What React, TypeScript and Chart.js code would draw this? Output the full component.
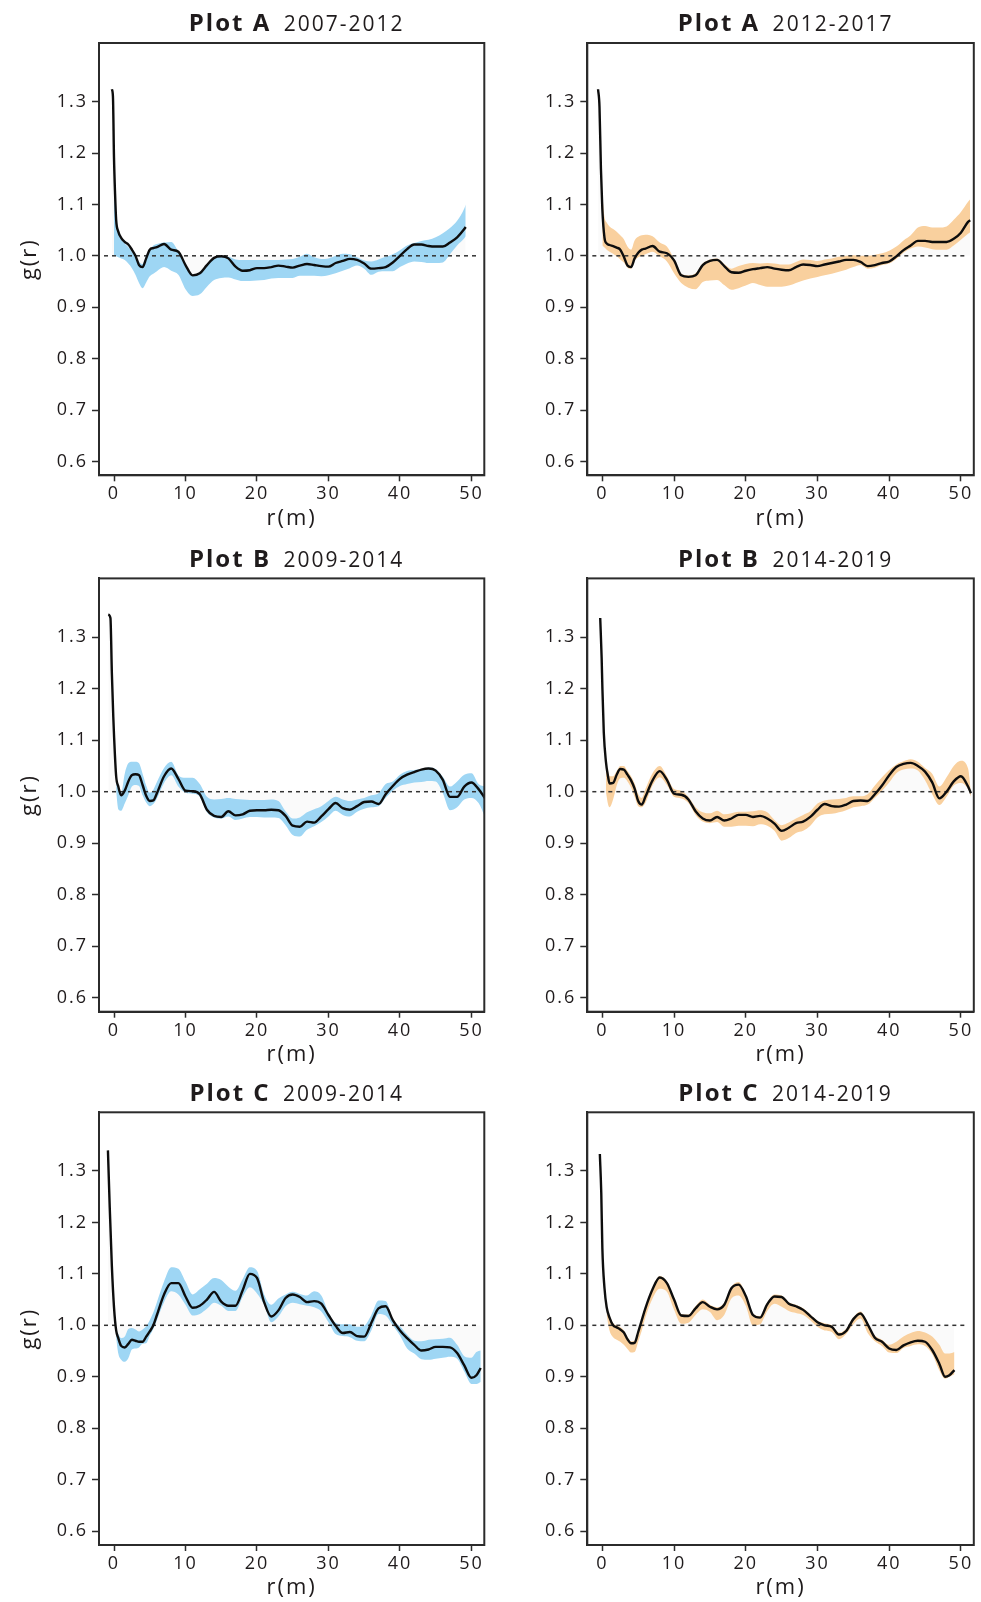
import React, { useEffect, useRef } from "react";
import { Chart, registerables } from "chart.js";

Chart.register(...registerables);

// ---------- axes ----------
const X_TICKS = [0, 10, 20, 30, 40, 50];
const X_TICK_LABELS = ["0", "10", "20", "30", "40", "50"];
const Y_TICKS = [0.6, 0.7, 0.8, 0.9, 1.0, 1.1, 1.2, 1.3];
const Y_TICK_LABELS = ["0.6", "0.7", "0.8", "0.9", "1.0", "1.1", "1.2", "1.3"];
const X_MIN = -2.1;
const X_MAX = 51.8;
const Y_MIN = 0.573;
const Y_MAX = 1.414;
const REF_R = [-1.4, 51];
const REF_G = [1, 1];

// ---------- Plot A 2007-2012 ----------
const A1_R = [-0.3, -0.15, 0, 0.15, 0.3, 0.6, 1, 1.5, 2, 2.5, 3, 3.5, 4, 4.5, 5, 5.5, 6,
  7, 8, 9, 10, 11, 12, 13, 14, 15, 16, 17, 18, 19, 20, 21, 22, 23, 24, 25, 26, 27, 28, 29, 30,
  31, 32, 33, 34, 35, 36, 37, 38, 39, 40, 41, 42, 43, 44, 45, 46, 47, 48, 49, 49.2];
const A1_G = [1.324, 1.31, 1.19, 1.12, 1.07, 1.047, 1.035, 1.027, 1.022, 1.012, 1.0, 0.982, 0.978, 0.995, 1.012, 1.015, 1.017,
  1.023, 1.012, 1.008, 0.982, 0.962, 0.966, 0.982, 0.996, 0.999, 0.995, 0.979, 0.971, 0.972, 0.976, 0.976, 0.978, 0.981, 0.979, 0.977, 0.981, 0.984, 0.982, 0.98, 0.979,
  0.986, 0.99, 0.994, 0.992, 0.985, 0.975, 0.976, 0.978, 0.987, 1.0, 1.013, 1.022, 1.022, 1.019, 1.018, 1.018, 1.026, 1.036, 1.052, 1.056];
const A1_LO = [null, null, 1.0, 1.0, 0.999, 0.997, 0.995, 0.992, 0.985, 0.976, 0.963, 0.947, 0.937, 0.948, 0.96, 0.965, 0.97,
  0.978, 0.971, 0.963, 0.935, 0.922, 0.925, 0.94, 0.953, 0.957, 0.958, 0.954, 0.951, 0.951, 0.952, 0.953, 0.956, 0.957, 0.957, 0.957, 0.961, 0.961, 0.961, 0.96, 0.962,
  0.966, 0.971, 0.976, 0.981, 0.975, 0.963, 0.969, 0.97, 0.97, 0.978, 0.985, 0.989, 0.988, 0.986, 0.986, 0.987, 1.003, 1.02, 1.034, 1.038];
const A1_HI = [null, null, 1.15, 1.1, 1.068, 1.045, 1.032, 1.024, 1.017, 1.008, 0.997, 0.988, 0.984, 1.0, 1.012, 1.02, 1.023,
  1.026, 1.027, 1.008, 0.982, 0.962, 0.966, 0.982, 0.996, 0.999, 0.998, 0.993, 0.992, 0.992, 0.992, 0.992, 0.992, 0.992, 0.993, 0.994, 0.998, 1.004, 0.997, 0.994, 0.995,
  1.0, 1.004, 1.003, 0.997, 0.991, 0.989, 0.993, 0.998, 1.003, 1.011, 1.02, 1.025, 1.029, 1.031, 1.036, 1.044, 1.054, 1.068, 1.092, 1.1];

// ---------- Plot A 2012-2017 ----------
const A2_R = [-0.6, -0.4, -0.2, 0, 0.3, 0.6, 1, 1.5, 2, 2.5, 3, 3.5, 4, 4.5, 5, 5.5, 6,
  7, 8, 9, 10, 11, 12, 13, 14, 15, 16, 17, 18, 19, 20, 21, 22, 23, 24, 25, 26, 27, 28, 29, 30,
  31, 32, 33, 34, 35, 36, 37, 38, 39, 40, 41, 42, 43, 44, 45, 46, 47, 48, 49, 50, 51, 51.3];
const A2_G = [1.324, 1.29, 1.17, 1.09, 1.035, 1.024, 1.021, 1.019, 1.016, 1.012, 0.998, 0.981, 0.978, 0.995, 1.006, 1.012, 1.014,
  1.019, 1.008, 1.005, 0.991, 0.962, 0.959, 0.962, 0.982, 0.99, 0.992, 0.98, 0.968, 0.967, 0.971, 0.974, 0.976, 0.978, 0.975, 0.973, 0.972, 0.978, 0.983, 0.982, 0.98,
  0.983, 0.986, 0.989, 0.992, 0.992, 0.988, 0.98, 0.982, 0.986, 0.989, 0.999, 1.011, 1.02, 1.029, 1.029, 1.027, 1.027, 1.027, 1.033, 1.045, 1.066, 1.069];
const A2_LO = [null, null, null, 1.02, 1.016, 1.012, 1.008, 1.004, 0.999, 0.993, 0.987, 0.977, 0.975, 0.99, 0.997, 1.0, 1.003,
  1.008, 0.999, 0.989, 0.966, 0.947, 0.938, 0.935, 0.949, 0.952, 0.953, 0.943, 0.934, 0.937, 0.942, 0.947, 0.943, 0.94, 0.94, 0.94, 0.942, 0.947, 0.952, 0.956, 0.959,
  0.962, 0.965, 0.969, 0.973, 0.978, 0.982, 0.975, 0.977, 0.982, 0.985, 0.994, 1.006, 1.014, 1.018, 1.016, 1.013, 1.012, 1.012, 1.02, 1.031, 1.043, 1.046];
const A2_HI = [null, null, null, 1.12, 1.075, 1.065, 1.057, 1.052, 1.047, 1.04, 1.032, 1.018, 1.012, 1.03, 1.037, 1.04, 1.041,
  1.038, 1.026, 1.018, 0.994, 0.965, 0.962, 0.966, 0.985, 0.993, 0.995, 0.984, 0.975, 0.98, 0.984, 0.986, 0.985, 0.986, 0.985, 0.983, 0.983, 0.988, 0.993, 0.992, 0.99,
  0.993, 0.995, 0.998, 1.0, 1.001, 1.0, 1.0, 1.002, 1.005, 1.01, 1.018, 1.03, 1.04, 1.055, 1.058, 1.055, 1.055, 1.057, 1.07, 1.085, 1.105, 1.11];

// ---------- Plot B 2009-2014 ----------
const B1_R = [-0.8, -0.5, -0.3, -0.1, 0, 0.3, 0.6, 1, 1.5, 2, 2.5, 3, 3.5, 4, 4.5, 5, 5.5, 6,
  7, 8, 9, 10, 11, 12, 13, 14, 15, 16, 17, 18, 19, 20, 21, 22, 23, 24, 25, 26, 27, 28, 29, 30,
  31, 32, 33, 34, 35, 36, 37, 38, 39, 40, 41, 42, 43, 44, 45, 46, 47, 48, 49, 50, 51, 51.9];
const B1_G = [1.344, 1.337, 1.23, 1.145, 1.11, 1.03, 1.01, 0.993, 1.002, 1.02, 1.032, 1.034, 1.032, 1.013, 0.992, 0.982, 0.983, 0.997,
  1.03, 1.045, 1.025, 1.002, 1.001, 0.995, 0.965, 0.953, 0.951, 0.962, 0.954, 0.956, 0.963, 0.964, 0.964, 0.965, 0.964, 0.953, 0.934, 0.932, 0.942, 0.94, 0.952, 0.966,
  0.978, 0.968, 0.965, 0.972, 0.98, 0.981, 0.976, 0.995, 1.011, 1.025, 1.033, 1.038, 1.043, 1.045, 1.041, 1.023, 0.99, 0.99, 1.01, 1.018, 1.005, 0.987];
const B1_LO = [null, null, null, null, null, 1.0, 0.966, 0.963, 0.977, 0.993, 1.01, 1.013, 1.011, 0.993, 0.979, 0.972, 0.976, 0.987,
  1.017, 1.032, 1.01, 0.998, 0.996, 0.99, 0.96, 0.95, 0.948, 0.952, 0.945, 0.948, 0.951, 0.951, 0.95, 0.95, 0.949, 0.935, 0.916, 0.913, 0.926, 0.933, 0.941, 0.952,
  0.963, 0.955, 0.952, 0.961, 0.967, 0.97, 0.972, 0.988, 1.002, 1.011, 1.015, 1.018, 1.019, 1.021, 1.02, 0.997, 0.964, 0.97, 0.985, 0.988, 0.978, 0.951];
const B1_HI = [null, null, null, null, null, 1.03, 1.015, 0.998, 1.035, 1.055, 1.058, 1.058, 1.055, 1.035, 1.012, 0.998, 1.004, 1.019,
  1.046, 1.058, 1.032, 1.027, 1.027, 1.015, 0.99, 0.985, 0.986, 0.988, 0.986, 0.985, 0.984, 0.984, 0.984, 0.985, 0.982, 0.962, 0.948, 0.95, 0.96, 0.966, 0.972, 0.982,
  0.99, 0.985, 0.982, 0.985, 0.988, 0.993, 0.997, 1.015, 1.02, 1.033, 1.04, 1.042, 1.044, 1.047, 1.044, 1.029, 1.01, 1.02, 1.033, 1.036, 1.015, 1.01];

// ---------- Plot B 2014-2019 ----------
const B2_R = [-0.3, -0.1, 0, 0.2, 0.5, 0.8, 1, 1.5, 2, 2.5, 3, 3.5, 4, 4.5, 5, 5.5, 6,
  7, 8, 9, 10, 11, 12, 13, 14, 15, 16, 17, 18, 19, 20, 21, 22, 23, 24, 25, 26, 27, 28, 29, 30,
  31, 32, 33, 34, 35, 36, 37, 38, 39, 40, 41, 42, 43, 44, 45, 46, 47, 48, 49, 50, 51, 51.4];
const B2_G = [1.337, 1.26, 1.204, 1.115, 1.058, 1.029, 1.016, 1.017, 1.033, 1.044, 1.043, 1.033, 1.022, 1.006, 0.982, 0.975, 0.99,
  1.022, 1.04, 1.023, 0.996, 0.994, 0.985, 0.962, 0.948, 0.944, 0.951, 0.944, 0.948, 0.955, 0.955, 0.951, 0.953, 0.948, 0.938, 0.924, 0.93, 0.939, 0.942, 0.951, 0.965,
  0.976, 0.972, 0.971, 0.975, 0.982, 0.983, 0.982, 0.995, 1.012, 1.032, 1.048, 1.054, 1.056, 1.05, 1.039, 1.018, 0.987, 1.0, 1.02, 1.03, 1.01, 0.997];
const B2_LO = [null, null, null, null, 1.0, 0.975, 0.97, 0.985, 1.012, 1.026, 1.027, 1.02, 1.008, 0.99, 0.972, 0.97, 0.978,
  1.012, 1.028, 1.013, 0.99, 0.987, 0.978, 0.955, 0.942, 0.939, 0.941, 0.932, 0.932, 0.934, 0.934, 0.933, 0.937, 0.934, 0.924, 0.905, 0.91, 0.92, 0.924, 0.934, 0.95,
  0.956, 0.957, 0.96, 0.964, 0.97, 0.972, 0.975, 0.988, 1.002, 1.018, 1.036, 1.043, 1.045, 1.041, 1.022, 0.995, 0.974, 0.99, 1.012, 1.017, 1.005, 0.99];
const B2_HI = [null, null, null, null, 1.055, 1.04, 1.03, 1.03, 1.04, 1.05, 1.05, 1.04, 1.03, 1.016, 0.995, 0.988, 1.005,
  1.036, 1.05, 1.03, 1.005, 1.002, 0.99, 0.97, 0.96, 0.958, 0.963, 0.956, 0.958, 0.961, 0.961, 0.962, 0.964, 0.96, 0.945, 0.935, 0.94, 0.948, 0.955, 0.962, 0.977,
  0.983, 0.985, 0.986, 0.988, 0.991, 0.991, 0.995, 1.012, 1.028, 1.042, 1.053, 1.059, 1.063, 1.058, 1.046, 1.035, 1.01, 1.028, 1.05, 1.06, 1.045, 1.0];

// ---------- Plot C 2009-2014 ----------
const C1_R = [-0.85, -0.6, -0.3, 0, 0.3, 0.6, 1, 1.5, 2, 2.5, 3, 3.5, 4, 4.5, 5, 5.5, 6,
  7, 8, 9, 10, 11, 12, 13, 14, 15, 16, 17, 18, 19, 20, 21, 22, 23, 24, 25, 26, 27, 28, 29, 30,
  31, 32, 33, 34, 35, 36, 37, 38, 39, 40, 41, 42, 43, 44, 45, 46, 47, 48, 49, 50, 50.7, 51.3];
const C1_G = [1.34, 1.23, 1.115, 1.035, 0.99, 0.975, 0.96, 0.957, 0.964, 0.972, 0.97, 0.968, 0.968, 0.978, 0.988, 1.0, 1.02,
  1.06, 1.082, 1.082, 1.056, 1.034, 1.038, 1.05, 1.065, 1.046, 1.038, 1.038, 1.068, 1.1, 1.092, 1.045, 1.017, 1.029, 1.053, 1.06, 1.055, 1.045, 1.047, 1.042, 1.02,
  0.999, 0.985, 0.987, 0.979, 0.978, 1.005, 1.033, 1.037, 1.01, 0.99, 0.975, 0.962, 0.951, 0.953, 0.958, 0.958, 0.957, 0.946, 0.922, 0.898, 0.903, 0.917];
const C1_LO = [null, null, null, null, 0.975, 0.945, 0.933, 0.929, 0.936, 0.953, 0.955, 0.957, 0.964, 0.965, 0.98, 0.993, 1.01,
  1.045, 1.066, 1.06, 1.04, 1.019, 1.022, 1.032, 1.044, 1.038, 1.028, 1.028, 1.055, 1.074, 1.062, 1.04, 1.006, 1.017, 1.037, 1.044, 1.041, 1.038, 1.035, 1.027, 1.006,
  0.983, 0.979, 0.977, 0.97, 0.969, 0.99, 1.022, 1.019, 1.0, 0.98, 0.955, 0.945, 0.934, 0.933, 0.935, 0.937, 0.939, 0.935, 0.91, 0.886, 0.886, 0.89];
const C1_HI = [null, null, null, null, 0.992, 0.983, 0.975, 0.978, 0.993, 0.995, 0.992, 0.988, 0.992, 0.998, 1.01, 1.025, 1.045,
  1.085, 1.113, 1.11, 1.085, 1.06, 1.07, 1.081, 1.092, 1.088, 1.075, 1.067, 1.09, 1.113, 1.106, 1.06, 1.04, 1.052, 1.06, 1.065, 1.061, 1.058, 1.066, 1.058, 1.025,
  1.005, 1.002, 1.002, 0.997, 0.999, 1.02, 1.048, 1.047, 1.012, 0.998, 0.982, 0.97, 0.969, 0.972, 0.973, 0.974, 0.976, 0.962, 0.94, 0.937, 0.948, 0.951];

// ---------- Plot C 2014-2019 ----------
const C2_R = [-0.35, -0.15, 0, 0.3, 0.6, 1, 1.5, 2, 2.5, 3, 3.5, 4, 4.5, 5, 5.5, 6,
  7, 8, 9, 10, 11, 12, 13, 14, 15, 16, 17, 18, 19, 20, 21, 22, 23, 24, 25, 26, 27, 28, 29, 30,
  31, 32, 33, 34, 35, 36, 37, 38, 39, 40, 41, 42, 43, 44, 45, 46, 47, 47.8, 48.4, 49.1];
const C2_G = [1.333, 1.256, 1.15, 1.072, 1.035, 1.015, 1.0, 0.996, 0.992, 0.986, 0.973, 0.965, 0.966, 0.987, 1.01, 1.033,
  1.07, 1.093, 1.082, 1.05, 1.019, 1.018, 1.033, 1.045, 1.036, 1.031, 1.04, 1.072, 1.079, 1.057, 1.02, 1.015, 1.041, 1.056, 1.055, 1.042, 1.037, 1.03, 1.018, 1.006,
  1.0, 0.997, 0.982, 0.989, 1.012, 1.023, 1.002, 0.976, 0.968, 0.955, 0.952, 0.961, 0.967, 0.97, 0.968, 0.952, 0.925, 0.9, 0.903, 0.913];
const C2_LO = [null, null, null, null, 1.02, 0.99, 0.977, 0.972, 0.968, 0.962, 0.954, 0.947, 0.948, 0.968, 0.99, 1.015,
  1.052, 1.071, 1.065, 1.03, 1.003, 1.005, 1.02, 1.031, 1.026, 1.01, 1.02, 1.052, 1.058, 1.038, 1.0, 1.002, 1.028, 1.042, 1.036, 1.028, 1.024, 1.02, 1.01, 0.997,
  0.99, 0.987, 0.973, 0.983, 1.002, 1.013, 0.985, 0.969, 0.96, 0.947, 0.946, 0.956, 0.96, 0.963, 0.96, 0.944, 0.912, 0.896, 0.9, 0.905];
const C2_HI = [null, null, null, null, 1.04, 1.02, 1.004, 1.0, 0.996, 0.99, 0.977, 0.969, 0.97, 0.99, 1.013, 1.036,
  1.073, 1.096, 1.085, 1.053, 1.022, 1.021, 1.037, 1.05, 1.04, 1.035, 1.044, 1.075, 1.084, 1.06, 1.023, 1.018, 1.044, 1.06, 1.058, 1.045, 1.04, 1.033, 1.021, 1.009,
  1.004, 1.0, 0.986, 0.993, 1.015, 1.027, 1.005, 0.98, 0.972, 0.962, 0.968, 0.978, 0.985, 0.989, 0.986, 0.978, 0.962, 0.945, 0.945, 0.948];

// ---------- panels ----------
const BLUE = "rgb(158,214,244)";
const ORANGE = "rgb(249,208,158)";
const FONT = '"Open Sans", "Noto Sans", sans-serif';

type Panel = {
  plot: string;
  period: string;
  color: string;
  r: number[];
  g: number[];
  lo: (number | null)[];
  hi: (number | null)[];
  row: number;
  col: number;
};

const PANELS: Panel[] = [
  { plot: "Plot A", period: "2007-2012", color: BLUE, r: A1_R, g: A1_G, lo: A1_LO, hi: A1_HI, row: 0, col: 0 },
  { plot: "Plot A", period: "2012-2017", color: ORANGE, r: A2_R, g: A2_G, lo: A2_LO, hi: A2_HI, row: 0, col: 1 },
  { plot: "Plot B", period: "2009-2014", color: BLUE, r: B1_R, g: B1_G, lo: B1_LO, hi: B1_HI, row: 1, col: 0 },
  { plot: "Plot B", period: "2014-2019", color: ORANGE, r: B2_R, g: B2_G, lo: B2_LO, hi: B2_HI, row: 1, col: 1 },
  { plot: "Plot C", period: "2009-2014", color: BLUE, r: C1_R, g: C1_G, lo: C1_LO, hi: C1_HI, row: 2, col: 0 },
  { plot: "Plot C", period: "2014-2019", color: ORANGE, r: C2_R, g: C2_G, lo: C2_LO, hi: C2_HI, row: 2, col: 1 },
];

// layout (pixels)
const ROW_TOP = [0, 535, 1069];
const ROW_H = [533, 534, 533];
const CHART_TOP = [43, 43.4, 43.3];
const X_AXIS_H = [57.7, 57.3, 57];
const COL_LEFT = [0, 490];
const COL_W = [490, 491];
const Y_AXIS_W = [99, 97.3];
const PAD_RIGHT = [5.7, 7.2];

const pts = (xs: number[], ys: (number | null)[]) => xs.map((x, i) => ({ x, y: ys[i] }));

const decoPlugin = {
  id: "panelDeco",
  beforeUpdate(chart: any) {
    chart.ctx.letterSpacing = "2px";
  },
  beforeDraw(chart: any) {
    const { ctx, width, height } = chart;
    ctx.letterSpacing = "2px";
    ctx.save();
    ctx.fillStyle = "#ffffff";
    ctx.fillRect(0, 0, width, height);
    ctx.restore();
  },
  afterDraw(chart: any) {
    const { ctx, chartArea: a } = chart;
    const o = chart.options.plugins.panelDeco;
    ctx.save();
    ctx.strokeStyle = "#2b2b2b";
    ctx.lineWidth = 2;
    ctx.strokeRect(a.left, a.top, a.right - a.left, a.bottom - a.top);
    ctx.letterSpacing = "2px";
    ctx.fillStyle = "#1f1b1c";
    ctx.textBaseline = "alphabetic";
    ctx.textAlign = "left";
    const bold = `bold 24px ${FONT}`;
    const reg = `21px ${FONT}`;
    ctx.font = bold;
    const w1 = ctx.measureText(o.plot).width;
    ctx.font = reg;
    const w2 = ctx.measureText(o.period).width;
    const gap = 12.5;
    const total = w1 + gap + w2;
    const cx = (a.left + a.right) / 2 + 5;
    const x0 = cx - total / 2;
    const y = a.top - 11.6;
    ctx.font = bold;
    ctx.fillText(o.plot, x0, y);
    ctx.font = reg;
    ctx.fillText(o.period, x0 + w1 + gap, y);
    ctx.restore();
  },
};

function PanelChart({ p }: { p: Panel }) {
  const ref = useRef<HTMLCanvasElement | null>(null);
  const w = COL_W[p.col];
  const h = ROW_H[p.row];
  useEffect(() => {
    const canvas = ref.current;
    if (!canvas) return;
    const mono = "monotone" as const;
    const chart = new Chart(canvas, {
      type: "line",
      data: {
        datasets: [
          {
            label: "g(r)",
            data: pts(p.r, p.g),
            borderColor: "#0d0d0d",
            borderWidth: 2.4,
            pointRadius: 0,
            cubicInterpolationMode: mono,
            fill: false,
          },
          {
            label: "ref",
            data: pts(REF_R, REF_G),
            borderColor: "#333333",
            borderWidth: 1.5,
            borderDash: [4, 4],
            pointRadius: 0,
            fill: false,
          },
          {
            label: "upper",
            data: pts(p.r, p.hi),
            borderColor: "rgba(0,0,0,0)",
            borderWidth: 0,
            backgroundColor: p.color,
            pointRadius: 0,
            cubicInterpolationMode: mono,
            fill: 3,
          },
          {
            label: "lower",
            data: pts(p.r, p.lo),
            borderColor: "rgba(0,0,0,0)",
            borderWidth: 0,
            pointRadius: 0,
            cubicInterpolationMode: mono,
            fill: false,
          },
          {
            label: "shade",
            data: pts(p.r, p.g),
            borderColor: "rgba(0,0,0,0)",
            borderWidth: 0,
            backgroundColor: "rgba(0,0,0,0.018)",
            pointRadius: 0,
            cubicInterpolationMode: mono,
            fill: { value: 1 },
          },
        ],
      },
      options: {
        animation: false,
        responsive: false,
        devicePixelRatio: 1,
        events: [],
        layout: { padding: { top: CHART_TOP[p.row], right: PAD_RIGHT[p.col], bottom: 0, left: 0 } },
        plugins: {
          legend: { display: false },
          tooltip: { enabled: false },
          title: { display: false },
          panelDeco: { plot: p.plot, period: p.period },
        } as any,
        scales: {
          x: {
            type: "linear",
            min: X_MIN,
            max: X_MAX,
            afterBuildTicks: (s: any) => {
              s.ticks = X_TICKS.map((v) => ({ value: v }));
            },
            afterFit: (s: any) => {
              s.height = X_AXIS_H[p.row];
            },
            ticks: {
              autoSkip: false,
              maxRotation: 0,
              padding: 2,
              color: "#1f1b1c",
              font: { family: FONT, size: 18 },
              callback: (v: any) => {
                const i = X_TICKS.findIndex((t) => Math.abs(t - Number(v)) < 1e-9);
                return i >= 0 ? X_TICK_LABELS[i] : "";
              },
            },
            grid: { drawOnChartArea: false, drawTicks: true, tickLength: 6, tickWidth: 1.5, tickColor: "#2b2b2b" },
            border: { display: true, color: "#2b2b2b", width: 2 },
            title: {
              display: true,
              text: "r(m)",
              color: "#1f1b1c",
              font: { family: FONT, size: 22 },
              padding: { top: 0, bottom: 1.5 },
            },
          },
          y: {
            type: "linear",
            min: Y_MIN,
            max: Y_MAX,
            afterBuildTicks: (s: any) => {
              s.ticks = Y_TICKS.map((v) => ({ value: v }));
            },
            afterFit: (s: any) => {
              s.width = Y_AXIS_W[p.col];
            },
            ticks: {
              autoSkip: false,
              padding: 4,
              color: "#1f1b1c",
              font: { family: FONT, size: 18 },
              callback: (v: any) => {
                const i = Y_TICKS.findIndex((t) => Math.abs(t - Number(v)) < 1e-9);
                return i >= 0 ? Y_TICK_LABELS[i] : "";
              },
            },
            grid: { drawOnChartArea: false, drawTicks: true, tickLength: 7, tickWidth: 1.5, tickColor: "#2b2b2b" },
            border: { display: true, color: "#2b2b2b", width: 2 },
            title: {
              display: p.col === 0,
              text: "g(r)",
              color: "#1f1b1c",
              font: { family: FONT, size: 22 },
              padding: { top: 17, bottom: 0 },
            },
          },
        },
      },
      plugins: [decoPlugin as any],
    });
    return () => chart.destroy();
  }, []);
  return (
    <canvas
      ref={ref}
      width={w}
      height={h}
      style={{ position: "absolute", left: COL_LEFT[p.col], top: ROW_TOP[p.row], width: w, height: h, display: "block" }}
    />
  );
}

export default function App() {
  return (
    <div style={{ position: "absolute", left: 0, top: 0, width: 981, height: 1602, background: "#ffffff", overflow: "hidden" }}>
      {PANELS.map((p, i) => (
        <PanelChart key={i} p={p} />
      ))}
    </div>
  );
}
